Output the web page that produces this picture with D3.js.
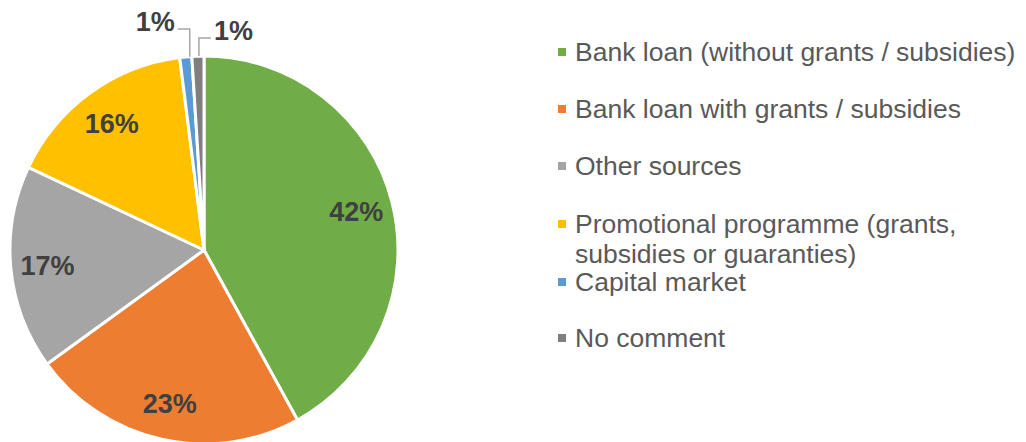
<!DOCTYPE html>
<html>
<head>
<meta charset="utf-8">
<script src="https://cdn.jsdelivr.net/npm/d3@7"></script>
<style>
  html, body { margin: 0; padding: 0; background: #fff; }
  svg { display: block; font-family: "Liberation Sans", Arial, sans-serif; }
</style>
</head>
<body>
<svg id="chart" width="1026" height="442"></svg>
<script>
// Financing sources, share of respondents (%)
const categories = [
  "Bank loan (without grants / subsidies)",
  "Bank loan with grants / subsidies",
  "Other sources",
  "Promotional programme (grants, subsidies or guaranties)",
  "Capital market",
  "No comment"
];
const values = [42, 23, 17, 16, 1, 1];
const colors = ["#70AD47", "#ED7D31", "#A5A5A5", "#FFC000", "#5B9BD5", "#7F7F7F"];
// legend lines (long entries wrap onto two lines)
const legendLines = [
  ["Bank loan (without grants / subsidies)"],
  ["Bank loan with grants / subsidies"],
  ["Other sources"],
  ["Promotional programme (grants,", "subsidies or guaranties)"],
  ["Capital market"],
  ["No comment"]
];

const svg = d3.select("#chart");
const cx = 204, cy = 250, R = 194;
const labelSize = 27, legendSize = 26.5;

const data = categories.map((c, i) => ({ name: c, value: values[i], color: colors[i], lines: legendLines[i] }));

const pie = d3.pie().value(d => d.value).sort(null).startAngle(0).endAngle(2 * Math.PI);
const arcs = pie(data);
const arc = d3.arc().innerRadius(0).outerRadius(R);
const labelArc = d3.arc().innerRadius(R * 0.81).outerRadius(R * 0.81);

const g = svg.append("g").attr("transform", `translate(${cx},${cy})`);

g.selectAll("path.slice")
  .data(arcs)
  .join("path")
  .attr("class", "slice")
  .attr("d", arc)
  .attr("fill", d => d.data.color)
  .attr("stroke", "#fff")
  .attr("stroke-width", 3)
  .attr("stroke-linejoin", "round");

const fmt = v => `${v}%`;

// inside labels for the larger slices
g.selectAll("text.inner")
  .data(arcs.filter(d => d.data.value >= 5))
  .join("text")
  .attr("class", "inner")
  .attr("x", d => labelArc.centroid(d)[0])
  .attr("y", d => labelArc.centroid(d)[1] + 1)
  .attr("text-anchor", "middle")
  .attr("dominant-baseline", "central")
  .attr("font-size", labelSize)
  .attr("font-weight", "bold")
  .attr("fill", "#404040")
  .text(d => fmt(d.data.value));

// callout labels for the thin slices at the top
const small = arcs.filter(d => d.data.value < 5);
const callouts = [
  { elbowY: -221, endDx: -12, side: "left",  textY: -228 },
  { elbowY: -212, endDx: 12,  side: "right", textY: -219 }
];
small.forEach((d, i) => {
  const mid = (d.startAngle + d.endAngle) / 2;
  const px = R * Math.sin(mid) + (i === 0 ? 4 : 1);
  const py = -R * Math.cos(mid);
  const c = callouts[i];
  const ex = px + c.endDx;
  g.append("path")
    .attr("d", `M${px},${py}L${px},${c.elbowY}L${ex},${c.elbowY}`)
    .attr("fill", "none")
    .attr("stroke", "#A6A6A6")
    .attr("stroke-width", 1.5);
  g.append("text")
    .attr("x", c.side === "left" ? ex - 3 : ex + 3)
    .attr("y", c.textY)
    .attr("text-anchor", c.side === "left" ? "end" : "start")
    .attr("dominant-baseline", "central")
    .attr("font-size", labelSize)
    .attr("font-weight", "bold")
    .attr("fill", "#404040")
    .text(fmt(d.data.value));
});

// legend
const legendX = 558;
const legendRowY = [52, 109, 166, 224, 282, 338];
const lg = svg.append("g");
data.forEach((d, i) => {
  const y = legendRowY[i];
  lg.append("rect")
    .attr("x", legendX)
    .attr("y", y - 4)
    .attr("width", 8)
    .attr("height", 8)
    .attr("fill", d.color);
  const t = lg.append("text")
    .attr("x", legendX + 17)
    .attr("y", y)
    .attr("font-size", legendSize)
    .attr("fill", "#595959")
    .attr("dominant-baseline", "central");
  d.lines.forEach((line, j) => {
    t.append("tspan")
      .attr("x", legendX + 17)
      .attr("dy", j === 0 ? 0 : 30)
      .text(line);
  });
});
</script>
</body>
</html>
